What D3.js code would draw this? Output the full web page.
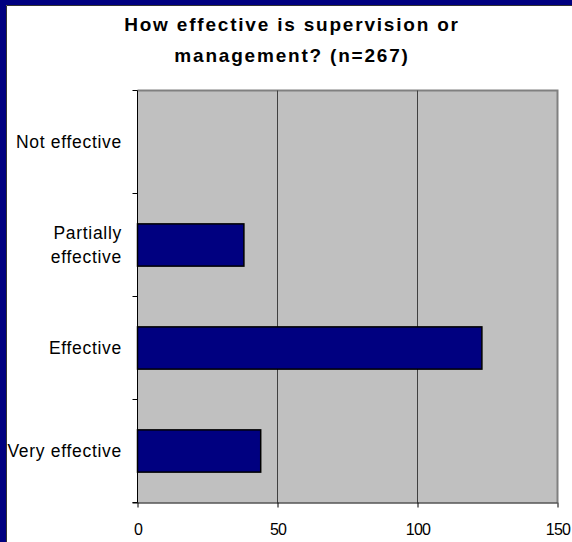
<!DOCTYPE html>
<html>
<head>
<meta charset="utf-8">
<script src="https://cdn.jsdelivr.net/npm/d3@7"></script>
<style>
  html, body { margin: 0; padding: 0; background: #ffffff; }
  svg { display: block; }
  text { font-family: "Liberation Sans", Arial, sans-serif; fill: #000; }
</style>
</head>
<body>
<svg id="chart" width="572" height="542"></svg>
<script>
// Survey responses, listed top to bottom
const categories = ["Not effective", "Partially effective", "Effective", "Very effective"];
const counts = [0, 38, 123, 44];
const xTicks = [0, 50, 100, 150];
const titleLines = ["How effective is supervision or", "management? (n=267)"];

const svg = d3.select("#chart");
const W = 572, H = 542;

// Frame: navy border showing along the top and left edges
svg.append("rect").attr("x", 0).attr("y", 0).attr("width", W).attr("height", H).attr("fill", "#000080");
svg.append("rect").attr("x", 6).attr("y", 5).attr("width", W).attr("height", H).attr("fill", "#ffffff");
svg.append("path").attr("d", `M6.5,${H} V5.5 H${W}`).attr("fill", "none").attr("stroke", "#333").attr("stroke-width", 1);

const plot = { left: 137.5, right: 557.5, top: 90.5, bottom: 502.5 };

const x = d3.scaleLinear().domain([0, 150]).range([plot.left, plot.right]);
const y = d3.scaleBand().domain(categories).range([plot.top, plot.bottom]).padding(0);
const barFrac = 0.41;

// Title
svg.append("g").selectAll("text").data(titleLines).join("text")
  .attr("x", 292).attr("y", (d, i) => 31 + i * 31)
  .attr("text-anchor", "middle")
  .style("font-size", "19px").style("font-weight", "bold").style("letter-spacing", "1.8px")
  .text(d => d);

// Plot area background
svg.append("rect")
  .attr("x", plot.left).attr("y", plot.top)
  .attr("width", plot.right - plot.left).attr("height", plot.bottom - plot.top)
  .attr("fill", "#c0c0c0");

// Top and right edges of the plot area
svg.append("path")
  .attr("d", `M${plot.left},${plot.top} H${plot.right} V${plot.bottom}`)
  .attr("fill", "none").attr("stroke", "#808080").attr("stroke-width", 2);

// Vertical gridlines
svg.append("g").selectAll("line").data(xTicks.filter(t => t > 0 && t < 150)).join("line")
  .attr("x1", d => x(d)).attr("x2", d => x(d))
  .attr("y1", plot.top).attr("y2", plot.bottom)
  .attr("stroke", "#404040").attr("stroke-width", 1);

// Bars
svg.append("g").selectAll("rect").data(categories.map((c, i) => ({ c, v: counts[i] })).filter(d => d.v > 0)).join("rect")
  .attr("x", x(0))
  .attr("y", d => y(d.c) + y.bandwidth() * (1 - barFrac) / 2)
  .attr("width", d => x(d.v) - x(0))
  .attr("height", y.bandwidth() * barFrac)
  .attr("fill", "#000080")
  .attr("stroke", "#000").attr("stroke-width", 1.5);

// Bottom axis
const xAxis = svg.append("g")
  .attr("transform", `translate(0,${plot.bottom})`)
  .call(d3.axisBottom(x).tickValues(xTicks).tickSize(5).tickSizeOuter(0).tickPadding(16));
xAxis.select(".domain").attr("d", `M${plot.left - 5},0.5 H${plot.right}`).attr("stroke", "#000");
xAxis.selectAll(".tick line").attr("stroke", "#000");
xAxis.selectAll(".tick text").style("font-size", "16px").style("letter-spacing", "-0.8px")
  .attr("font-family", "Liberation Sans, Arial, sans-serif");

// Left axis: category boundary ticks
const yEdges = categories.map(c => y(c)).concat([plot.bottom]);
svg.append("line").attr("x1", plot.left).attr("x2", plot.left)
  .attr("y1", plot.top).attr("y2", plot.bottom).attr("stroke", "#000").attr("stroke-width", 1);
svg.append("g").selectAll("line").data(yEdges).join("line")
  .attr("x1", plot.left - 5).attr("x2", plot.left)
  .attr("y1", d => d).attr("y2", d => d)
  .attr("stroke", "#000");

// Category labels (wrapped where the label is long)
const wrapped = { "Partially effective": ["Partially", "effective"] };
const labels = svg.append("g").selectAll("text").data(categories).join("text")
  .attr("text-anchor", "end")
  .style("font-size", "17.5px").style("letter-spacing", "0.7px");
labels.each(function (d) {
  const lines = wrapped[d] || [d];
  const cy = y(d) + y.bandwidth() / 2;
  const lh = 24;
  d3.select(this).selectAll("tspan").data(lines).join("tspan")
    .attr("x", 122)
    .attr("y", (l, i) => cy + 6 + (i - (lines.length - 1) / 2) * lh)
    .text(l => l);
});
</script>
</body>
</html>
